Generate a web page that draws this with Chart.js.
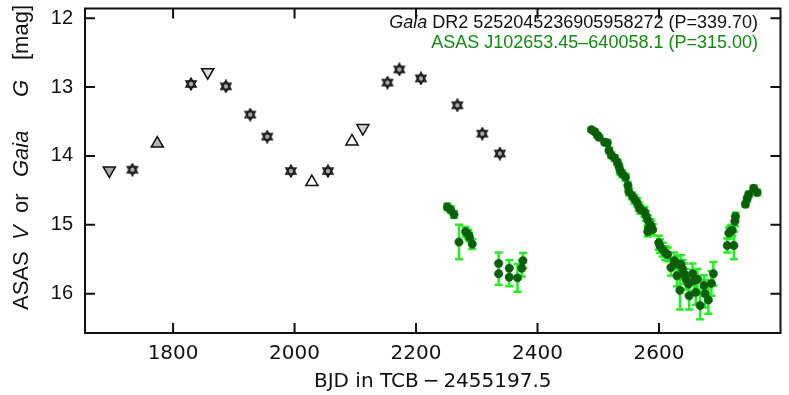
<!DOCTYPE html>
<html lang="en">
<head>
<meta charset="UTF-8">
<title>Gaia DR2 / ASAS light curve</title>
<script src="https://cdn.jsdelivr.net/npm/chart.js"></script>
<style>
  html, body { margin: 0; padding: 0; background: #fff; }
</style>
</head>
<body>
<canvas id="lc" width="789" height="395"></canvas>
<script>
// Gaia DR2 G-band epochs (stars = normal, triangles = flagged)
const gaiaStarDates = [1733, 1829.5, 1887, 1927, 1955, 1994, 2055, 2153, 2172.5, 2208, 2268, 2309, 2338];
const gaiaStarMags  = [14.20, 12.955, 12.99, 13.40, 13.72, 14.22, 14.22, 12.935, 12.745, 12.875, 13.265, 13.677, 13.965];
const gaiaUpDates   = [1774, 2028.5, 2094.5];
const gaiaUpMags    = [13.82, 14.38, 13.79];
const gaiaDownDates = [1695, 1857, 2112.5];
const gaiaDownMags  = [14.21, 12.785, 13.595];

// ASAS V photometry
const asasDates = [2251.5, 2257, 2262.5, 2270.7, 2281.5, 2286, 2288, 2292.5,
  2336, 2336, 2353.5, 2353.5, 2367, 2374, 2376,
  2488.8, 2494.2, 2498.6, 2501.3, 2510.5, 2514.9, 2517.7, 2521.5, 2526.9, 2531.3,
  2534, 2536.2, 2539.5, 2544.9, 2548.8, 2550.4, 2555.8, 2559.6, 2563.5, 2566.8,
  2569.4, 2576, 2578.7, 2581.5, 2585.8, 2583.1, 2586.9, 2581.5, 2589.7,
  2599.5, 2601.6, 2606, 2610.3, 2614.2, 2619.6, 2625, 2630.6, 2636, 2638.8,
  2629.5, 2634.4, 2641.4, 2644.2, 2648.6, 2649.6, 2655.1, 2657.8, 2660.5, 2663.3,
  2667.6, 2674.1, 2675.8, 2681.3, 2686.3, 2689.5,
  2712.4, 2723.2, 2715, 2720.6, 2717.8, 2724.8, 2726, 2742.3, 2745.1, 2747.7, 2755.9, 2761.5];
const asasMags = [14.74, 14.78, 14.85, 15.25, 15.10, 15.14, 15.18, 15.28,
  15.56, 15.71, 15.63, 15.76, 15.77, 15.63, 15.52,
  13.62, 13.65, 13.70, 13.73, 13.80, 13.81, 13.92, 13.99, 14.03, 14.09,
  14.15, 14.22, 14.26, 14.31, 14.43, 14.52, 14.58, 14.63, 14.67, 14.74,
  14.78, 14.81, 14.87, 14.93, 15.00, 15.05, 15.02, 15.10, 15.07,
  15.26, 15.31, 15.36, 15.41, 15.43, 15.62, 15.52, 15.57, 15.57, 15.64,
  15.74, 15.95, 15.71, 15.79, 15.86, 16.03, 15.71, 15.81, 15.98, 15.79,
  16.17, 15.88, 16.00, 16.09, 15.85, 15.71,
  15.30, 15.30, 15.12, 15.08, 15.09, 14.95, 14.88, 14.70, 14.62, 14.56, 14.47, 14.53];
const asasErrs = [0.05, 0.05, 0.05, 0.25, 0.07, 0.07, 0.06, 0.07,
  0.16, 0.16, 0.12, 0.13, 0.20, 0.12, 0.11,
  0.03, 0.03, 0.03, 0.03, 0.04, 0.04, 0.04, 0.04, 0.04, 0.04,
  0.04, 0.05, 0.05, 0.05, 0.05, 0.05, 0.05, 0.06, 0.06, 0.06,
  0.06, 0.07, 0.07, 0.07, 0.08, 0.08, 0.08, 0.07, 0.08,
  0.10, 0.10, 0.10, 0.10, 0.10, 0.12, 0.12, 0.12, 0.13, 0.13,
  0.15, 0.28, 0.15, 0.15, 0.15, 0.20, 0.15, 0.15, 0.18, 0.15,
  0.20, 0.15, 0.20, 0.20, 0.18, 0.17,
  0.10, 0.20, 0.08, 0.08, 0.08, 0.07, 0.06, 0.04, 0.04, 0.04, 0.04, 0.04];

const xTickValues = [1800, 2000, 2200, 2400, 2600];
const yTickValues = [12, 13, 14, 15, 16];

const FONT = "'Liberation Sans', Arial, Helvetica, sans-serif";
const XFONT = "'DejaVu Sans', 'Liberation Sans', sans-serif";
const ASAS_GREEN = '#0b5f0b';
const BAR_GREEN = '#22ee22';
const LABEL_GREEN = '#128a12';

// hexagram marker used for the Gaia points
function hexagram(size) {
  const c = document.createElement('canvas');
  c.width = c.height = size;
  const g = c.getContext('2d');
  const cx = size / 2, cy = size / 2, r = size / 2 - 1.2;
  g.fillStyle = '#a9a9a9';
  g.strokeStyle = '#111';
  g.lineWidth = 1.5;
  const tri = rot => {
    g.beginPath();
    for (let k = 0; k < 3; k++) {
      const a = rot + k * 2 * Math.PI / 3;
      const px = cx + Math.sin(a) * r, py = cy - Math.cos(a) * r;
      if (k) g.lineTo(px, py); else g.moveTo(px, py);
    }
    g.closePath();
  };
  tri(0); g.fill(); tri(Math.PI); g.fill();
  tri(0); g.stroke(); tri(Math.PI); g.stroke();
  return c;
}
const starImg = hexagram(14);

const toXY = (xs, ys) => xs.map((v, i) => ({ x: v, y: ys[i] }));

const decorations = {
  id: 'decorations',
  beforeDatasetsDraw(chart) {
    const { ctx, scales: { x, y }, chartArea: a } = chart;
    ctx.save();
    ctx.beginPath();
    ctx.rect(a.left, a.top, a.right - a.left, a.bottom - a.top);
    ctx.clip();
    ctx.strokeStyle = BAR_GREEN;
    ctx.lineWidth = 2.5;
    asasDates.forEach((d, i) => {
      const px = x.getPixelForValue(d);
      const y1 = y.getPixelForValue(asasMags[i] - asasErrs[i]);
      const y2 = y.getPixelForValue(asasMags[i] + asasErrs[i]);
      ctx.beginPath();
      ctx.moveTo(px, y1); ctx.lineTo(px, y2);
      ctx.moveTo(px - 4, y1); ctx.lineTo(px + 4, y1);
      ctx.moveTo(px - 4, y2); ctx.lineTo(px + 4, y2);
      ctx.stroke();
    });
    ctx.restore();
  },
  afterDraw(chart) {
    const { ctx, scales: { x, y }, chartArea: a } = chart;
    ctx.save();
    // frame + inward ticks on all sides
    ctx.strokeStyle = '#111';
    ctx.lineWidth = 2;
    ctx.strokeRect(a.left, a.top, a.right - a.left, a.bottom - a.top);
    ctx.beginPath();
    xTickValues.forEach(v => {
      const px = x.getPixelForValue(v);
      ctx.moveTo(px, a.bottom); ctx.lineTo(px, a.bottom - 10);
      ctx.moveTo(px, a.top); ctx.lineTo(px, a.top + 10);
    });
    yTickValues.forEach(v => {
      const py = y.getPixelForValue(v);
      ctx.moveTo(a.left, py); ctx.lineTo(a.left + 10, py);
      ctx.moveTo(a.right, py); ctx.lineTo(a.right - 10, py);
    });
    ctx.stroke();

    // key text, top right
    ctx.textBaseline = 'alphabetic';
    ctx.textAlign = 'right';
    const kx = 758;
    ctx.fillStyle = '#111';
    ctx.font = '18px ' + FONT;
    const rest = ' DR2 5252045236905958272 (P=339.70)';
    ctx.fillText(rest, kx, 28);
    const w = ctx.measureText(rest).width;
    ctx.font = 'italic 18px ' + FONT;
    ctx.fillText('Gaia', kx - w, 28);
    ctx.font = '18px ' + FONT;
    ctx.fillStyle = LABEL_GREEN;
    ctx.fillText('ASAS J102653.45\u2013640058.1 (P=315.00)', kx, 48);

    // x axis title
    ctx.fillStyle = '#111';
    ctx.textAlign = 'center';
    ctx.font = '20px ' + XFONT;
    ctx.fillText('BJD in TCB\u2009\u2212\u20092455197.5', (a.left + a.right) / 2, 387);

    // y axis title, mixed upright / italic pieces (start = distance from bottom)
    const parts = [
      ['ASAS', '', 310], ['V', 'italic ', 240], ['or', '', 213],
      ['Gaia', 'italic ', 177], ['G', 'italic ', 97], ['[mag]', '', 60]
    ];
    ctx.translate(28, 0);
    ctx.rotate(-Math.PI / 2);
    ctx.textAlign = 'left';
    parts.forEach(([t, s, start]) => {
      ctx.font = s + '22px ' + FONT;
      ctx.fillText(t, -start, 0);
    });
    ctx.restore();
  }
};

new Chart(document.getElementById('lc').getContext('2d'), {
  type: 'scatter',
  data: {
    datasets: [
      {
        label: 'ASAS',
        data: toXY(asasDates, asasMags),
        pointStyle: 'circle',
        pointRadius: 4.2,
        pointBackgroundColor: ASAS_GREEN,
        pointBorderColor: ASAS_GREEN,
        pointBorderWidth: 0.5
      },
      {
        label: 'Gaia',
        data: toXY(gaiaStarDates, gaiaStarMags),
        pointStyle: starImg
      },
      {
        label: 'Gaia up',
        data: toXY(gaiaUpDates, gaiaUpMags),
        pointStyle: 'triangle',
        pointRadius: 7,
        pointBackgroundColor: ['#b4b4b4', '#ffffff', '#f4f4f4'],
        pointBorderColor: '#111',
        pointBorderWidth: 1.5
      },
      {
        label: 'Gaia down',
        data: toXY(gaiaDownDates, gaiaDownMags),
        pointStyle: 'triangle',
        rotation: 180,
        pointRadius: 7,
        pointBackgroundColor: ['#a8a8a8', '#dcdcdc', '#d2d2d2'],
        pointBorderColor: '#111',
        pointBorderWidth: 1.5
      }
    ]
  },
  options: {
    responsive: false,
    animation: false,
    layout: { padding: { top: 4, right: 4, left: 0, bottom: 0 } },
    plugins: { legend: { display: false }, tooltip: { enabled: false } },
    scales: {
      x: {
        type: 'linear',
        min: 1655,
        max: 2800,
        afterBuildTicks: s => { s.ticks = xTickValues.map(v => ({ value: v })); },
        afterFit: s => { s.height = 62; s.paddingLeft = 0; s.paddingRight = 0; },
        grid: { display: false, drawTicks: false },
        border: { display: false },
        ticks: { color: '#111', font: { family: XFONT, size: 20 }, padding: 9, callback: v => String(v) }
      },
      y: {
        type: 'linear',
        reverse: true,
        min: 11.86,
        max: 16.57,
        afterBuildTicks: s => { s.ticks = yTickValues.map(v => ({ value: v })); },
        afterFit: s => { s.width = 85; s.paddingTop = 0; s.paddingBottom = 0; },
        grid: { display: false, drawTicks: false },
        border: { display: false },
        ticks: { color: '#111', font: { family: FONT, size: 20 }, padding: 12, callback: v => String(v) }
      }
    }
  },
  plugins: [decorations]
});
</script>
</body>
</html>
